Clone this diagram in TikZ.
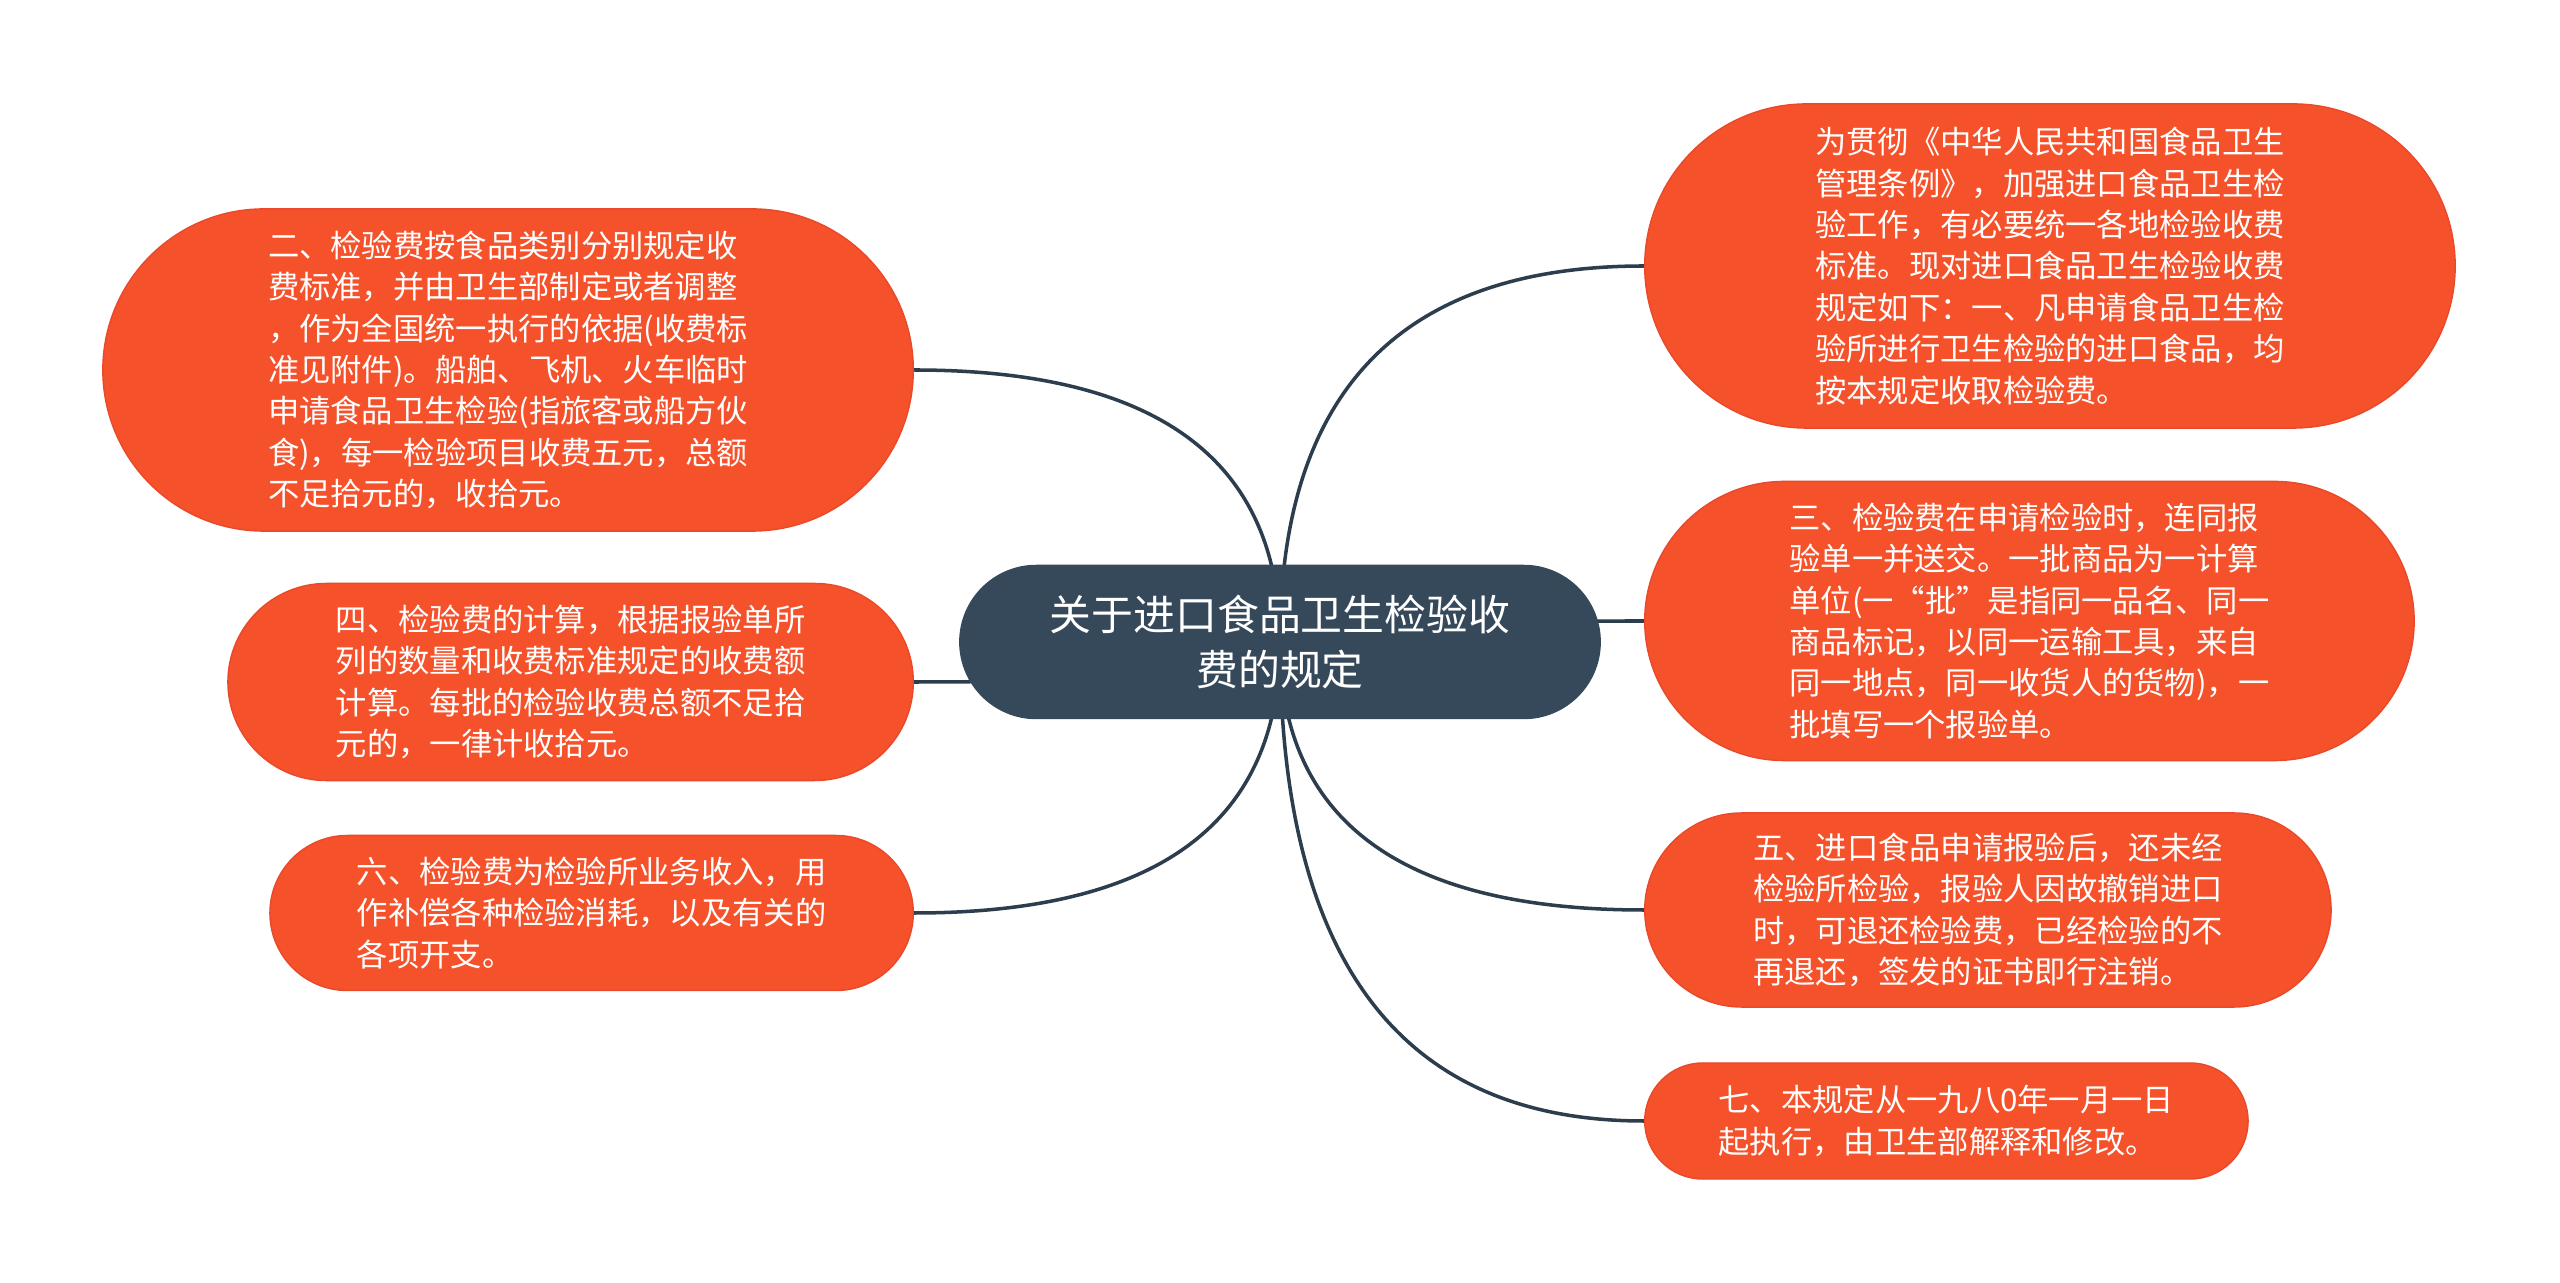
\documentclass[tikz,border=0pt]{standalone}
\usepackage{fontspec}
\setmainfont{Noto Sans CJK SC}
\usepackage{tikz}
\usetikzlibrary{calc}
\usetikzlibrary{backgrounds}
\definecolor{leaforange}{HTML}{F5522B}
\definecolor{leafedge}{HTML}{E9492A}
\definecolor{topicblue}{HTML}{36495A}
\definecolor{branchline}{HTML}{2C3D4D}
\newcommand{\leaffont}{\fontsize{8.9pt}{11.76pt}\selectfont}
\newcommand{\topicfont}{\fontsize{11.9pt}{15.8pt}\selectfont}
\tikzset{leaf/.style={rectangle, fill=leaforange, draw=leafedge, line width=0.4pt, text=white, align=left, font=\leaffont, inner sep=0pt, minimum height=#1, rounded corners=#1/2}}
\tikzset{topic/.style={rectangle, fill=topicblue, draw=topicblue, text=white, align=center, font=\topicfont, inner sep=0pt, minimum width=6.4cm, minimum height=1.53cm, rounded corners=0.765cm}}
\tikzstyle{branch} = [-, draw=branchline, line width=1pt]

\begin{document}
\begin{tikzpicture}[x=0.01cm, y=-0.01cm]
\useasboundingbox (0, 0) rectangle (2560, 1283);
\node [topic] (topic) at (1280, 642) {关于进口食品卫生检验收\\费的规定};
\node [leaf=3.24cm, minimum width=8.10cm, anchor=west] (n1) at (1644, 266) {为贯彻《中华人民共和国食品卫生\\管理条例》，加强进口食品卫生检\\验工作，有必要统一各地检验收费\\标准。现对进口食品卫生检验收费\\规定如下：一、凡申请食品卫生检\\验所进行卫生检验的进口食品，均\\按本规定收取检验费。};
\node [leaf=2.79cm, minimum width=7.69cm, anchor=west] (n3) at (1644, 621) {三、检验费在申请检验时，连同报\\验单一并送交。一批商品为一计算\\单位(一“批”是指同一品名、同一\\商品标记，以同一运输工具，来自\\同一地点，同一收货人的货物)，一\\批填写一个报验单。};
\node [leaf=1.94cm, minimum width=6.86cm, anchor=west] (n5) at (1644, 910) {五、进口食品申请报验后，还未经\\检验所检验，报验人因故撤销进口\\时，可退还检验费，已经检验的不\\再退还，签发的证书即行注销。};
\node [leaf=1.16cm, minimum width=6.03cm, anchor=west] (n7) at (1644, 1121) {七、本规定从一九八0年一月一日\\起执行，由卫生部解释和修改。};
\node [leaf=3.22cm, minimum width=8.10cm, anchor=east] (n2) at (914, 370) {二、检验费按食品类别分别规定收\\费标准，并由卫生部制定或者调整\\，作为全国统一执行的依据(收费标\\准见附件)。船舶、飞机、火车临时\\申请食品卫生检验(指旅客或船方伙\\食)，每一检验项目收费五元，总额\\不足拾元的，收拾元。};
\node [leaf=1.97cm, minimum width=6.85cm, anchor=east] (n4) at (914, 682) {四、检验费的计算，根据报验单所\\列的数量和收费标准规定的收费额\\计算。每批的检验收费总额不足拾\\元的，一律计收拾元。};
\node [leaf=1.55cm, minimum width=6.43cm, anchor=east] (n6) at (914, 913) {六、检验费为检验所业务收入，用\\作补偿各种检验消耗，以及有关的\\各项开支。};
\begin{scope}[on background layer]
\fill [white] (0, 0) rectangle (2560, 1283);
\foreach \leaf/\anc in {n1/west, n3/west, n5/west, n7/west, n2/east, n4/east, n6/east}
  \draw [branch] (topic.center) .. controls ($(topic.center)!0.667!(topic.center |- \leaf.\anc)$) and ($(\leaf.\anc)!0.667!(topic.center |- \leaf.\anc)$) .. (\leaf.\anc);
\end{scope}
\end{tikzpicture}
\end{document}
